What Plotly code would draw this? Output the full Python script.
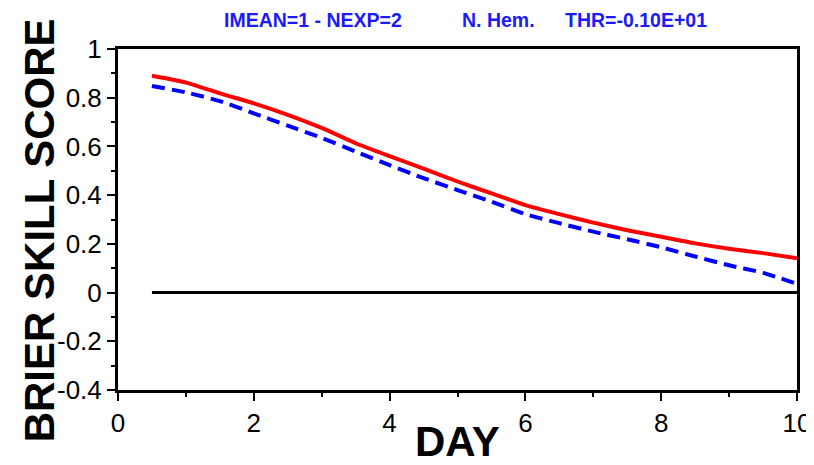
import plotly.graph_objects as go

# Brier skill score by forecast day
days = [0.5, 1, 1.5, 2, 2.5, 3, 3.5, 4, 4.5, 5, 5.5, 6, 6.5, 7, 7.5, 8, 8.5, 9, 9.5, 10]
bss_exp1 = [0.890, 0.862, 0.818, 0.777, 0.730, 0.676, 0.613, 0.560, 0.509, 0.456,
            0.407, 0.359, 0.322, 0.287, 0.256, 0.229, 0.202, 0.180, 0.162, 0.141]
bss_exp2 = [0.848, 0.822, 0.786, 0.736, 0.685, 0.635, 0.579, 0.523, 0.470, 0.421,
            0.373, 0.322, 0.285, 0.250, 0.219, 0.186, 0.148, 0.112, 0.081, 0.036]
zero_line = [0.0] * len(days)

y_ticks = [-0.4, -0.2, 0, 0.2, 0.4, 0.6, 0.8, 1]
y_labels = ["-0.4", "-0.2", "0", "0.2", "0.4", "0.6", "0.8", "1"]
x_ticks = [0, 2, 4, 6, 8, 10]

fig = go.Figure()
fig.add_trace(go.Scatter(x=days, y=zero_line, mode="lines",
                         line=dict(color="black", width=3)))
fig.add_trace(go.Scatter(x=days, y=bss_exp2, mode="lines",
                         line=dict(color="#0000ff", width=4, dash="13px,7px",
                                   shape="spline", smoothing=0.6)))
fig.add_trace(go.Scatter(x=days, y=bss_exp1, mode="lines",
                         line=dict(color="#ff0000", width=4, shape="spline", smoothing=0.6)))

axis_common = dict(showline=True, linecolor="black", linewidth=3, mirror=True,
                   ticks="outside", ticklen=8, tickwidth=1.5, tickcolor="black",
                   showgrid=False, zeroline=False, automargin=False,
                   tickfont=dict(family="Liberation Sans, Arial", size=26, color="black"))

fig.update_xaxes(range=[0, 10], tickvals=x_ticks,
                 minor=dict(ticks="outside", ticklen=4, tickwidth=1.5, tickcolor="black", dtick=1),
                 **axis_common)
fig.update_yaxes(range=[-0.4, 1], tickvals=y_ticks, ticktext=y_labels,
                 minor=dict(ticks="outside", ticklen=4, tickwidth=1.5, tickcolor="black", dtick=0.1),
                 **axis_common)

head_font = dict(family="Liberation Sans, Arial", size=19.5, color="#1a1aff")
big_font = dict(family="Liberation Sans, Arial", size=42, color="black")

# the page body has an 8px margin, so the figure is sized to fit the window
fig.update_layout(
    width=806, height=457,
    margin=dict(l=110, r=17, t=41, b=75, autoexpand=False),
    plot_bgcolor="white", paper_bgcolor="white",
    showlegend=False,
    annotations=[
        dict(text="<b>IMEAN=1 - NEXP=2</b>", x=0.287, y=1.0836, xref="paper", yref="paper",
             showarrow=False, xanchor="center", yanchor="middle", font=head_font),
        dict(text="<b>N. Hem.</b>", x=0.561, y=1.0836, xref="paper", yref="paper",
             showarrow=False, xanchor="center", yanchor="middle", font=head_font),
        dict(text="<b>THR=-0.10E+01</b>", x=0.763, y=1.0836, xref="paper", yref="paper",
             showarrow=False, xanchor="center", yanchor="middle", font=head_font),
        dict(text="<b>DAY</b>", x=0.5, y=-0.152, xref="paper", yref="paper",
             showarrow=False, xanchor="center", yanchor="middle", font=big_font),
        dict(text="<b>BRIER SKILL SCORE</b>", x=-0.116, y=0.469, xref="paper", yref="paper",
             showarrow=False, textangle=-90, xanchor="center", yanchor="middle", font=big_font),
    ],
)

fig.write_html("out.html")
